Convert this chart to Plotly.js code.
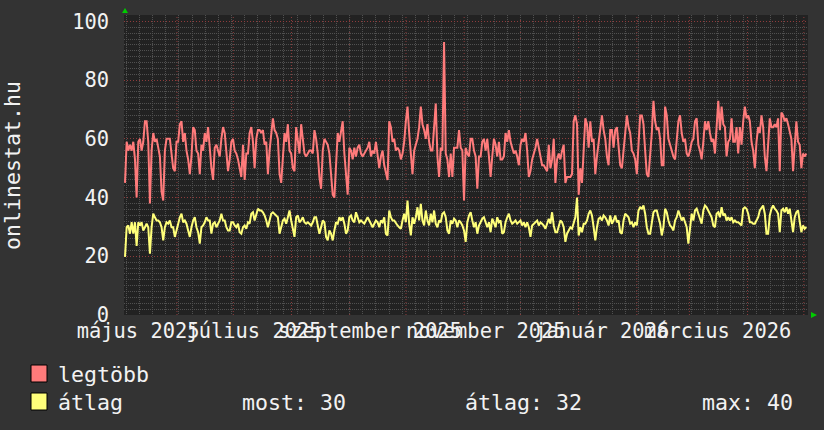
<!DOCTYPE html>
<html><head><meta charset="utf-8">
<script src="https://cdn.plot.ly/plotly-3.0.1.min.js"></script>
<style>html,body{margin:0;padding:0;background:#333333;} #chart{width:824px;height:430px;}</style>
</head><body><div id="chart"></div>
<script>
// legtöbb (max online)
const legtobb = [
45,59,56,58,56,59,53,40,59,60,56,59,66,66,59,38,56,62,59,60,57,54,42,39,56,60,60,60,55,50,49,59,59,65,66,59,62,56,53,48,54,64,63,56,55,48,58,56,62,59,64,56,50,46,57,58,
56,54,60,64,62,55,49,53,59,60,56,55,53,50,47,58,46,55,55,62,64,59,50,60,63,63,62,63,58,59,48,56,63,67,63,62,60,48,45,54,62,59,65,56,55,50,49,64,60,55,65,59,55,54,55,56,56,55,63,
60,55,47,43,56,60,59,58,55,46,41,40,50,62,59,63,66,55,46,41,57,56,53,57,54,57,58,55,54,55,56,57,59,54,56,55,59,54,50,54,56,51,48,46,66,64,59,60,56,57,56,53,55,59,66,71,62,54,48,
56,58,60,64,71,65,63,60,65,59,56,56,64,72,54,47,57,56,93,55,53,47,55,47,57,57,57,63,57,56,39,57,55,54,60,60,56,54,43,54,54,59,60,56,60,54,47,54,60,58,54,59,53,53,54,62,59,63,59,
57,55,56,54,51,58,60,59,62,56,47,49,53,55,57,60,57,53,51,51,50,49,58,50,53,60,45,53,55,53,56,58,45,47,47,47,48,66,68,65,41,50,45,59,67,65,57,66,59,60,48,54,59,64,68,63,60,54,51,
63,63,57,63,64,56,51,50,56,62,68,64,62,56,55,53,48,58,68,68,65,56,48,47,54,62,73,66,63,64,60,51,51,71,68,60,58,56,54,53,59,66,68,62,59,60,55,54,56,59,60,66,67,58,56,53,59,66,63,
66,62,59,60,55,64,73,63,71,65,64,54,59,60,67,59,59,64,55,64,58,66,71,67,68,66,59,56,50,59,64,62,68,64,54,49,58,67,64,64,65,64,67,49,69,68,66,67,65,62,60,49,59,66,59,58,50,55,54,55
];
// átlag (average online)
const atlag = [
19.8,29.9,30.5,27.7,31.6,27.7,31.6,23.5,31.6,30.5,31.6,28.8,29.9,31.1,29.9,20.9,29.9,34.5,33.3,32.2,32.2,31.6,29.9,25.4,29.9,31.6,31.1,32.2,29.9,29.9,26.6,28.8,31.6,33.3,34.5,31.6,32.2,31.1,28.8,26.6,29.9,32.2,33.3,29.9,28.2,24.3,29.9,30.5,31.6,33.3,32.2,32.2,27.7,31.1,31.6,29.9,
31.1,32.2,34.5,32.2,32.2,29.9,28.8,28.8,31.6,31.6,30.5,29.9,31.1,28.2,27.7,29.9,30.5,29.4,31.6,31.1,34.5,35.0,32.2,34.5,36.2,35.6,35.6,35.0,33.9,32.2,29.9,32.2,34.5,35.0,34.5,33.9,33.3,27.7,29.9,32.2,32.8,31.1,33.3,35.6,32.2,29.9,26.6,33.3,33.9,31.6,32.2,33.3,31.6,31.1,31.6,31.1,30.5,31.6,33.3,
33.3,29.9,27.7,29.9,32.2,31.6,26.6,25.4,28.8,27.7,25.4,28.8,31.6,31.1,33.3,32.2,33.3,31.1,27.7,28.8,33.3,33.9,32.2,31.6,35.0,33.3,31.6,32.2,31.6,31.1,32.2,33.3,32.2,31.1,29.9,31.1,32.2,31.6,29.9,32.2,31.6,33.3,27.7,27.1,35.6,33.3,32.2,32.2,31.1,30.5,29.9,29.4,32.2,34.5,31.6,39.0,31.1,27.1,33.3,
31.1,33.3,36.7,32.2,37.9,32.2,30.5,35.6,32.2,30.5,34.5,31.6,35.6,31.1,29.9,32.2,31.6,34.5,35.0,33.3,28.8,27.7,32.2,31.1,32.8,32.2,29.9,32.2,31.6,30.5,28.8,24.9,31.6,33.9,35.0,32.2,29.9,31.6,27.7,30.5,31.6,32.8,33.3,31.1,29.9,31.6,28.2,32.8,31.1,29.9,33.3,31.6,32.2,27.7,28.2,31.6,33.3,34.5,32.2,
31.1,31.6,32.2,31.1,31.6,32.2,30.5,31.6,29.9,31.6,29.9,26.6,30.5,31.1,31.6,32.2,30.5,31.6,31.1,30.5,29.4,31.6,32.8,31.1,35.0,30.5,28.2,28.2,29.9,32.2,31.6,29.9,24.9,27.7,28.8,29.9,29.4,31.6,33.3,40.0,27.1,29.9,28.2,31.1,31.1,32.2,34.5,35.6,33.9,29.9,25.4,29.9,32.8,33.3,32.2,33.9,33.3,32.2,30.5,
33.9,31.1,32.2,33.9,31.6,32.2,28.2,27.7,32.2,34.5,33.9,33.3,31.1,31.6,29.9,31.6,30.5,35.6,36.7,36.2,37.3,34.5,29.9,27.7,27.7,32.2,35.0,35.6,35.6,33.3,31.1,27.1,29.9,36.2,35.0,32.2,30.5,29.9,28.8,32.2,33.3,35.6,33.9,32.2,33.3,31.6,29.9,24.3,28.8,34.5,32.2,35.6,36.2,34.5,32.2,31.1,35.6,37.3,36.7,
35.6,34.5,33.3,30.5,29.9,34.5,35.0,33.3,36.7,33.9,34.5,32.2,33.3,32.2,33.3,31.6,32.2,31.6,31.6,31.1,30.5,36.2,36.7,36.2,34.5,31.6,31.6,31.1,31.1,32.2,33.3,35.6,36.7,37.3,34.5,27.7,27.7,33.9,36.2,37.3,36.2,35.6,34.5,28.2,35.6,36.2,35.0,36.7,34.5,36.2,32.2,28.2,33.3,35.0,35.6,31.6,28.2,30.5,29.4,30.0
];
const seriesStart = Date.UTC(2025, 4, 4, 7, 12);
const stepHours = 21.25;
const xRange = ["2025-05-03 18:29", "2026-05-03 04:48"];
const monthStarts = ["2025-06-01","2025-07-01","2025-08-01","2025-09-01","2025-10-01","2025-11-01","2025-12-01","2026-01-01","2026-02-01","2026-03-01","2026-04-01","2026-05-01"];
const labelDates = ["2025-05-11 06:43","2025-07-12 00:43","2025-09-11 18:43","2025-11-12 12:29","2026-01-13 06:29","2026-03-16 00:29"];
const labelTexts = ["május 2025","július 2025","szeptember 2025","november 2025","január 2026","március 2026"];
const legendNames = ["legtöbb", "átlag"];
const statTexts = ["most: 30", "átlag: 32", "max: 40"];
const yTitle = "onlinestat.hu";

const colRed = "#ff7b7b", colYel = "#ffff7a";
const txt = "#f2f2f2";
const mono = "DejaVu Sans Mono";
const axisFont = 20.4, legendFont = 21.6;
const W = 824, H = 430, L = 124, R = 808, T = 15, B = 315;
const px = x => (x - L) / (R - L);
const py = y => (B - y) / (B - T);

const times = legtobb.map((_, i) => seriesStart + i * stepHours * 3600000);

const traces = [
  {x: times, y: legtobb, xaxis: "x", yaxis: "y", type: "scatter", mode: "lines", name: legendNames[0],
   line: {color: colRed, width: 2}, hoverinfo: "skip"},
  {x: times, y: atlag, xaxis: "x2", yaxis: "y", type: "scatter", mode: "lines", name: legendNames[1],
   line: {color: colYel, width: 2}, hoverinfo: "skip"}
];

const minorGrid = "#505050", majorGrid = "#8e3c3c";

const monthLines = monthStarts.map(d => ({
  type: "line", xref: "x", yref: "paper", x0: d, x1: d, y0: 0, y1: 1, layer: "below",
  line: {color: majorGrid, width: 1, dash: "1px,2px"}
}));

const layout = {
  width: W, height: H,
  margin: {l: L, r: W - R, t: T, b: H - B, pad: 0},
  paper_bgcolor: "#333333", plot_bgcolor: "#222222",
  showlegend: false,
  font: {family: mono, size: axisFont, color: txt},
  xaxis: {
    type: "date", range: xRange, tickmode: "array", tickvals: monthStarts,
    showticklabels: false, ticks: "", showgrid: false, zeroline: false, showline: false,
    minor: {tickmode: "linear", tick0: "2025-05-05", dtick: 7 * 86400000,
            showgrid: true, gridcolor: minorGrid, griddash: "1px,1px", ticks: ""}
  },
  xaxis2: {
    type: "date", range: xRange, overlaying: "x", anchor: "y", side: "bottom",
    tickmode: "array", tickvals: labelDates, ticktext: labelTexts, tickangle: 0,
    showgrid: false, zeroline: false, showline: false, ticks: "",
    tickfont: {family: mono, size: axisFont, color: txt}, ticklabelstandoff: 2
  },
  yaxis: {
    range: [0, 102.2], tickmode: "linear", tick0: 0, dtick: 20,
    showgrid: true, gridcolor: majorGrid, griddash: "1px,2px", zeroline: false,
    showline: false, ticks: "", ticklabelstandoff: 14,
    tickfont: {family: mono, size: axisFont, color: txt},
    minor: {dtick: 2, showgrid: true, gridcolor: minorGrid, griddash: "1px,1px", ticks: ""}
  },
  shapes: monthLines.concat([
    // legend colour boxes
    {type: "rect", xref: "paper", yref: "paper", x0: px(31), x1: px(47), y0: py(365), y1: py(382),
     fillcolor: colRed, line: {color: "#000000", width: 1}},
    {type: "rect", xref: "paper", yref: "paper", x0: px(31), x1: px(47), y0: py(393), y1: py(410),
     fillcolor: colYel, line: {color: "#000000", width: 1}},
    // axis arrows
    {type: "path", xref: "paper", yref: "paper",
     path: `M ${px(122)} ${py(13)} L ${px(128)} ${py(13)} L ${px(125)} ${py(8)} Z`,
     fillcolor: "#00cc00", line: {width: 0}},
    {type: "path", xref: "paper", yref: "paper",
     path: `M ${px(811)} ${py(312)} L ${px(811)} ${py(318)} L ${px(817)} ${py(315)} Z`,
     fillcolor: "#00cc00", line: {width: 0}}
  ]),
  annotations: [
    {text: yTitle, xref: "paper", yref: "paper", x: px(12), y: py(166), textangle: -90,
     showarrow: false, xanchor: "center", yanchor: "middle", font: {family: mono, size: legendFont, color: txt}},
    {text: legendNames[0], xref: "paper", yref: "paper", x: px(57), y: py(374), showarrow: false,
     xanchor: "left", yanchor: "middle", borderpad: 0, font: {family: mono, size: legendFont, color: txt}},
    {text: legendNames[1], xref: "paper", yref: "paper", x: px(57), y: py(402), showarrow: false,
     xanchor: "left", yanchor: "middle", borderpad: 0, font: {family: mono, size: legendFont, color: txt}},
    {text: statTexts[0], xref: "paper", yref: "paper", x: px(241), y: py(402), showarrow: false,
     xanchor: "left", yanchor: "middle", borderpad: 0, font: {family: mono, size: legendFont, color: txt}},
    {text: statTexts[1], xref: "paper", yref: "paper", x: px(464), y: py(402), showarrow: false,
     xanchor: "left", yanchor: "middle", borderpad: 0, font: {family: mono, size: legendFont, color: txt}},
    {text: statTexts[2], xref: "paper", yref: "paper", x: px(701), y: py(402), showarrow: false,
     xanchor: "left", yanchor: "middle", borderpad: 0, font: {family: mono, size: legendFont, color: txt}}
  ]
};

Plotly.newPlot("chart", traces, layout, {staticPlot: true, displayModeBar: false});
</script>
</body></html>
